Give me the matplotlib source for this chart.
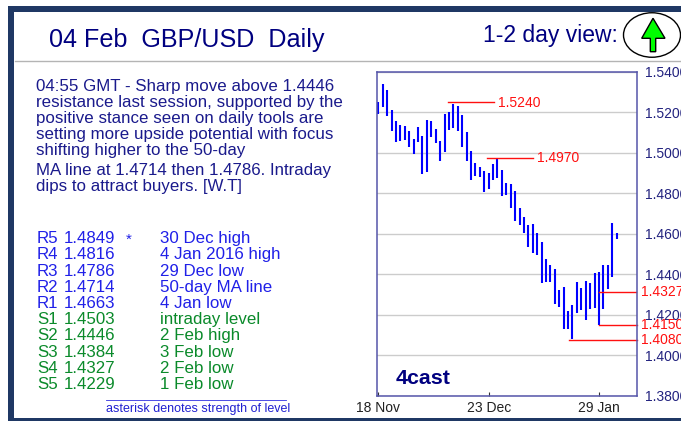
import matplotlib
matplotlib.use('Agg')
import matplotlib.pyplot as plt
from matplotlib.patches import Ellipse, Polygon, Rectangle

plt.rcParams['font.family'] = ['Liberation Sans', 'DejaVu Sans']

# daily high / low, one pair per session
highs = [1.5250, 1.5339, 1.5311, 1.5212, 1.5159, 1.5136, 1.5133, 1.5110, 1.5069, 1.5127,
         1.5084, 1.5161, 1.5158, 1.5118, 1.5061, 1.5194, 1.5202, 1.5242, 1.5232, 1.5187,
         1.5102, 1.5008, 1.4950, 1.4929, 1.4909, 1.4899, 1.4945, 1.4970, 1.4916, 1.4850,
         1.4846, 1.4813, 1.4726, 1.4685, 1.4644, 1.4649, 1.4603, 1.4560, 1.4474, 1.4446,
         1.4428, 1.4322, 1.4339, 1.4220, 1.4250, 1.4364, 1.4331, 1.4367, 1.4359, 1.4408,
         1.4413, 1.4446, 1.4446, 1.4652, 1.4603]
lows = [1.5191, 1.5229, 1.5184, 1.5110, 1.5056, 1.5059, 1.5064, 1.5031, 1.4995, 1.5052,
        1.4897, 1.4906, 1.5080, 1.5047, 1.4958, 1.5006, 1.5113, 1.5125, 1.5110, 1.5031,
        1.4962, 1.4866, 1.4886, 1.4881, 1.4808, 1.4820, 1.4864, 1.4874, 1.4789, 1.4792,
        1.4729, 1.4665, 1.4642, 1.4603, 1.4537, 1.4507, 1.4495, 1.4355, 1.4360, 1.4360,
        1.4253, 1.4237, 1.4130, 1.4130, 1.4079, 1.4207, 1.4224, 1.4174, 1.4230, 1.4235,
        1.4149, 1.4230, 1.4327, 1.4385, 1.4573]

y_ticks = [1.54, 1.52, 1.50, 1.48, 1.46, 1.44, 1.42, 1.40, 1.38]
date_ticks = [0, 25, 50]
date_labels = ['18 Nov', '23 Dec', '29 Jan']

# red marker lines: label, level, first session, last session
red_labels = ['1.5240', '1.4970', '1.4327', '1.4150', '1.4080']
red_levels = [1.5250, 1.4976, 1.4314, 1.4148, 1.4075]
red_start = [15.9, 24.7, 50, 50.1, 43.3]
red_end = [26.2, 35.1, 58.3, 58.55, 58.55]

body_lines = ['04:55 GMT - Sharp move above 1.4446',
              'resistance last session, supported by the',
              'positive stance seen on daily tools are',
              'setting more upside potential with focus',
              'shifting higher to the 50-day']
body_lines2 = ['MA line at 1.4714 then 1.4786. Intraday',
               'dips to attract buyers. [W.T]']

level_names = ['R5', 'R4', 'R3', 'R2', 'R1', 'S1', 'S2', 'S3', 'S4', 'S5']
level_values = ['1.4849', '1.4816', '1.4786', '1.4714', '1.4663',
                '1.4503', '1.4446', '1.4384', '1.4327', '1.4229']
level_notes = ['30 Dec high', '4 Jan 2016 high', '29 Dec low', '50-day MA line', '4 Jan low',
               'intraday level', '2 Feb high', '3 Feb low', '2 Feb low', '1 Feb low']

W, H = 681, 421
NAVY = '#000080'
BORDER = '#1f3864'

fig = plt.figure(figsize=(W / 100, H / 100), dpi=100, facecolor='white')

# overlay in pixel coordinates for the page furniture and text
page = fig.add_axes([0, 0, 1, 1])
page.set_xlim(0, W)
page.set_ylim(H, 0)
page.axis('off')

page.add_patch(Rectangle((8, 6), 6, 415, color=BORDER, lw=0))
page.add_patch(Rectangle((8, 6), 673, 6, color=BORDER, lw=0))
page.add_patch(Rectangle((8, 417.5), 673, 3.5, color=BORDER, lw=0))
page.plot([15, 681], [61, 61], color='#b4b4b4', lw=1)

page.text(49, 46.7, '04 Feb  GBP/USD  Daily', color=NAVY, fontsize=18.1, va='baseline')
page.text(483, 42.3, '1-2 day view:', color=NAVY, fontsize=16.5, va='baseline')

page.add_patch(Ellipse((652, 35), 57, 44.5, fc='white', ec='black', lw=1))
page.add_patch(Polygon([(653, 18.3), (665, 38.3), (655.7, 38.3), (655.7, 51.7),
                        (650.3, 51.7), (650.3, 38.3), (641.7, 38.3)],
                       fc='#00ff00', ec='black', lw=1))

for i, line in enumerate(body_lines):
    page.text(36, 90.5 + i * 16, line, color='#1a1a8c', fontsize=12.2, va='baseline')
for i, line in enumerate(body_lines2):
    page.text(36, 175.5 + i * 16, line, color='#1a1a8c', fontsize=12.2, va='baseline')

level_rows = [243.3, 259.3, 276.3, 292.3, 308.3, 324.3, 340.3, 357.3, 373.3, 389.3]
for i, y in enumerate(level_rows):
    c = '#2020e8' if level_names[i].startswith('R') else '#0a8a2a'
    page.text(37, y, level_names[i], color=c, fontsize=12.2, va='baseline')
    page.text(64, y, level_values[i], color=c, fontsize=12.2, va='baseline')
    page.text(160, y, level_notes[i], color=c, fontsize=12.2, va='baseline')
page.text(126, 243.3, '*', color='#2020e8', fontsize=11, va='baseline')

page.plot([106, 286], [399.5, 399.5], color='#3030e0', lw=0.6)
page.text(106, 412.3, 'asterisk denotes strength of level', color='#2020d0', fontsize=9, va='baseline')

# price chart
ax = fig.add_axes([377 / W, 1 - 395.7 / H, (636.7 - 377) / W, (395.7 - 72) / H])
ax.set_facecolor('none')
ax.set_xlim(-0.3, 58.55)
ax.set_ylim(1.38, 1.54)
ax.grid(axis='y', color='#cccccc', lw=1)
ax.set_axisbelow(True)

x = range(len(highs))
ax.vlines(x, lows, highs, color='#0000ff', lw=1.5)

for label, level, x0, x1 in zip(red_labels, red_levels, red_start, red_end):
    ax.plot([x0, x1], [level, level], color='#ff1010', lw=1, clip_on=False)
    if x1 < 58:
        ax.text(x1 + 0.9, level - 0.0002, label, color='#ff1010', fontsize=10, va='center')
    else:
        ax.text(59.6, level, label, color='#ff1010', fontsize=10, va='center', clip_on=False)

ax.text(4, 1.3885, '4cast', color=NAVY, fontsize=15.4, fontweight='bold', va='center')

ax.yaxis.tick_right()
ax.set_yticks(y_ticks)
ax.set_yticklabels(['%.4f' % v for v in y_ticks], color='#22227f', fontsize=10)
ax.tick_params(axis='y', length=0, pad=6)
ax.set_xticks(date_ticks)
ax.set_xticklabels(date_labels, color='#222222', fontsize=10)
ax.tick_params(axis='x', direction='in', length=3, width=0.8, pad=4, color='#333333')
for s in ax.spines.values():
    s.set_color('#5555aa')
    s.set_linewidth(1.1)

fig.savefig('out.png', dpi=100)
